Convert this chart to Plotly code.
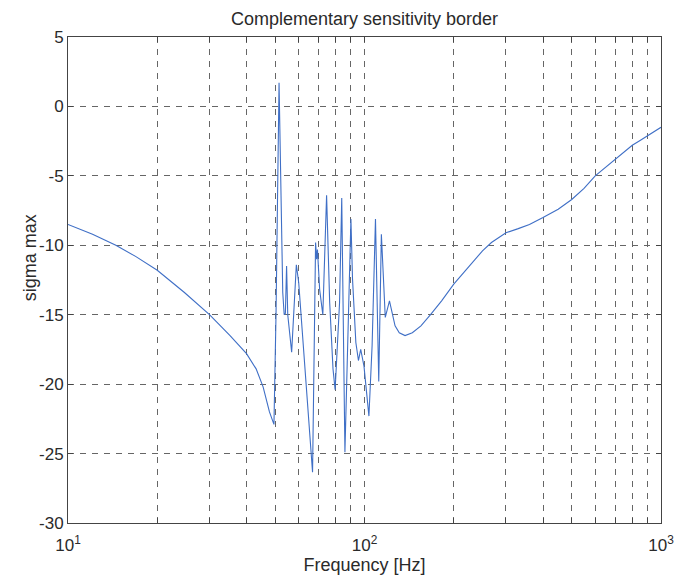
import plotly.graph_objects as go

freq_hz = [10, 12.1, 14.5, 16.9, 20, 24.7, 30, 35.2, 40, 43.1, 45.5, 47.8, 49.5, 50.3, 51.5, 52.3, 53.0, 53.6,
           54.1, 54.6, 55.1, 56.8,
           58.9, 60.0, 63.1, 65.5, 66.8, 68.4, 68.95, 69.4, 70.6, 72.35, 74.5, 76.3, 78.3, 79.6, 82.4, 83.8,
           85.9, 90.0, 91.1, 93.5, 95.4, 97.1, 99.6, 103.5, 106.1, 108.9, 111.7, 114.0, 117.5, 121.4, 126.8,
           131, 137, 145, 155, 167, 182, 200, 230, 250, 268, 285, 300, 330, 360, 400, 450, 500, 550, 600, 650,
           700, 750, 800, 850, 900, 950, 1000]
sigma_max = [-8.5, -9.2, -10.0, -10.8, -11.8, -13.4, -15.0, -16.5, -17.8, -18.9, -20.2, -22.0, -22.9, -15.0,
             1.7, -8.0, -13.4, -15.0, -14.9, -11.5, -15.0, -17.7,
             -11.4, -12.7, -18.9, -23.7, -26.35, -9.8, -11.0, -10.3, -13.2, -15.0, -6.4, -14.1, -18.9, -20.4,
             -14.1, -6.6,
             -24.9, -8.1, -12.4, -17.0, -18.3, -17.5, -18.7, -22.3, -17.2, -8.1, -19.8, -9.2, -15.2, -14.0, -15.8,
             -16.3, -16.5, -16.3, -15.8, -15.0, -14.0, -12.8, -11.3, -10.4, -9.8, -9.4, -9.1, -8.8, -8.5, -8.0,
             -7.4, -6.7, -5.9, -5.0, -4.4, -3.8, -3.3, -2.8, -2.45, -2.1, -1.8, -1.5]

x_major_vals = [10, 100, 1000]
x_major_text = ["10<sup>1</sup>", "10<sup>2</sup>", "10<sup>3</sup>"]
x_minor_vals = [20, 30, 40, 50, 60, 70, 80, 90, 200, 300, 400, 500, 600, 700, 800, 900]
y_tick_vals = [-30, -25, -20, -15, -10, -5, 0, 5]
y_tick_text = ["-30", "-25", "-20", "-15", "-10", "-5", "0", "5"]

FONT = "Liberation Sans, Arial, Helvetica"
TXT = "#2a2a2a"

fig = go.Figure()
fig.add_trace(go.Scatter(x=freq_hz, y=sigma_max, mode="lines",
                         line=dict(color="#3f6fc6", width=1.1), showlegend=False))

axis_common = dict(
    showline=True, linecolor="#444", linewidth=1, mirror="allticks",
    ticks="inside", ticklen=5, tickcolor="#444",
    showgrid=True, gridcolor="#666", gridwidth=1, griddash="6px,6px",
    zeroline=False, ticklabeloverflow="allow",
    tickfont=dict(family=FONT, size=17, color=TXT),
)

fig.update_layout(
    width=686, height=583,
    margin=dict(l=68, r=13, t=37, b=59),
    paper_bgcolor="white", plot_bgcolor="white",
    title=dict(text="Complementary sensitivity border", xref="paper", x=0.5, xanchor="center",
               yref="container", y=0.968, yanchor="middle",
               font=dict(family=FONT, size=18, color=TXT)),
    xaxis=dict(type="log", range=[1, 3], tickvals=x_major_vals, ticktext=x_major_text,
               ticklabelstandoff=7,
               minor=dict(tickvals=x_minor_vals, ticks="inside", ticklen=5, tickcolor="#444",
                          showgrid=True, gridcolor="#666", gridwidth=1, griddash="6px,6px"),
               title=dict(text="Frequency [Hz]", standoff=3,
                          font=dict(family=FONT, size=18, color=TXT)),
               **axis_common),
    yaxis=dict(range=[-30, 5], tickvals=y_tick_vals, ticktext=y_tick_text, **axis_common),
    annotations=[dict(text="sigma max", textangle=-90, xref="paper", yref="paper",
                      x=-0.064, y=0.545, xanchor="center", yanchor="middle", showarrow=False,
                      font=dict(family=FONT, size=18, color=TXT))],
)

fig.write_html("out.html")
